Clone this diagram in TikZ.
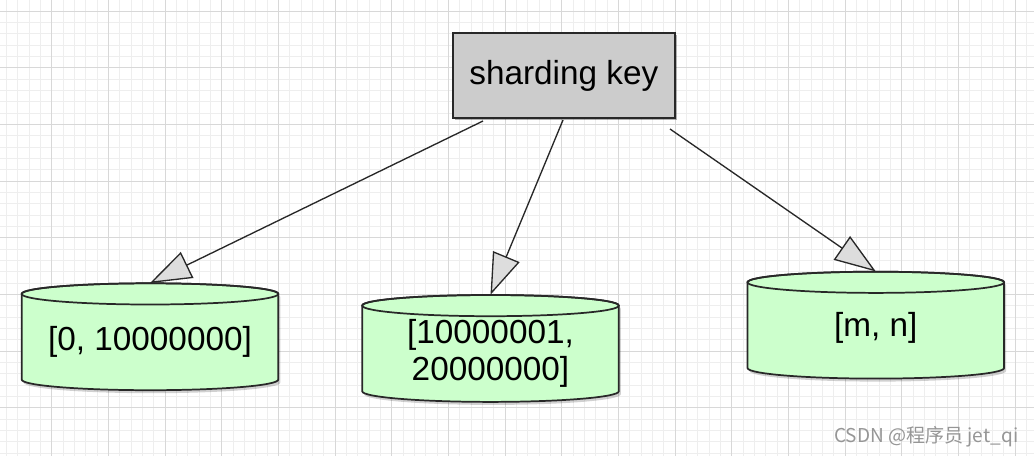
\documentclass[tikz,border=0pt]{standalone}
\usepackage{fontspec}
\setmainfont{Liberation Sans}
\newfontfamily\cjkfont{Noto Sans CJK SC}
\usetikzlibrary{arrows.meta,calc,shadows}
\definecolor{gridminor}{RGB}{238,238,238}
\definecolor{gridmajor}{RGB}{216,216,216}
\definecolor{boxfill}{RGB}{204,204,204}
\definecolor{cylfill}{RGB}{204,255,204}
\definecolor{edgec}{RGB}{40,40,40}
\definecolor{tipfill}{RGB}{221,221,221}
\definecolor{wmc}{RGB}{150,150,150}
\tikzset{
  minorline/.style={draw=gridminor, line width=0.75pt},
  majorline/.style={draw=gridmajor, line width=0.75pt},
  keybox/.style={draw=edgec, fill=boxfill, line width=1.3pt, minimum width=166.7pt, minimum height=63.75pt, inner sep=0pt,
    drop shadow={shadow xshift=1.5pt, shadow yshift=-1.5pt, opacity=0.3, fill=black}},
  cylbody/.style={draw=edgec, fill=cylfill, line width=1.3pt},
  cylshadow/.style={fill=black, opacity=0.18},
  cylnode/.style={minimum width=192.5pt, minimum height=80pt, inner sep=0pt},
  lbl/.style={font=\fontsize{25pt}{27.75pt}\selectfont, align=center, inner sep=0pt},
  conn/.style={draw=edgec, line width=1pt, -{Triangle[length=31pt, width=21.5pt, fill=tipfill]}},
  wmark/.style={text=wmc, font=\cjkfont\fontsize{14.3pt}{16pt}\selectfont, inner sep=0pt}
}
% #1 name, #2 centre x, #3 top y (image pixels)
\newcommand\dbcylinder[3]{%
  \begin{scope}[shift={(2,3)}]
    \fill[cylshadow] ({#2-128.3},{#3+10.6}) -- ({#2-128.3},{#3+96.3})
      arc[start angle=180, end angle=0, x radius=128.3, y radius=10.6]
      -- ({#2+128.3},{#3+10.6})
      arc[start angle=0, end angle=-180, x radius=128.3, y radius=10.6] -- cycle;
  \end{scope}
  \path[cylbody] ({#2-128.3},{#3+10.6}) -- ({#2-128.3},{#3+96.3})
    arc[start angle=180, end angle=0, x radius=128.3, y radius=10.6]
    -- ({#2+128.3},{#3+10.6})
    arc[start angle=0, end angle=-180, x radius=128.3, y radius=10.6] -- cycle;
  \draw[draw=edgec, line width=1.3pt] (#2,{#3+10.6}) ellipse[x radius=128.3, y radius=10.6];
  \node[cylnode] (#1) at (#2,{#3+53.35}) {};
}
\begin{document}
\begin{tikzpicture}[x=0.75pt, y=-0.75pt]
\useasboundingbox (0,0) rectangle (1034,456);
\fill[white] (0,0) rectangle (1034,456);
\begin{scope}
  \clip (0,0) rectangle (1034,456);
  \foreach \i in {0,...,92} \draw[minorline] ({-4.97+\i*11.333},0) -- ({-4.97+\i*11.333},456);
  \foreach \j in {0,...,41} \draw[minorline] (0,{-0.03+\j*11.333}) -- (1034,{-0.03+\j*11.333});
  \foreach \k in {0,...,18} \draw[majorline] ({-4.97+\k*56.667},0) -- ({-4.97+\k*56.667},456);
  \foreach \k in {0,...,8} \draw[majorline] (0,{-45.37+\k*56.667}) -- (1034,{-45.37+\k*56.667});
\end{scope}

\node[keybox, lbl] (box) at (563.85,75.8) {sharding key};

\dbcylinder{c1}{150}{283.3}
\dbcylinder{c2}{490.5}{295}
\dbcylinder{c3}{875.8}{271.7}

\node[lbl] (t1) at (150,341.7) {[0, 10000000]};
\node[lbl] (t2) at (490.5,353.3) {[10000001,\\20000000]};
\node[lbl] (t3) at (875.8,328.3) {[m, n]};

\coordinate (s1) at (483,121);
\coordinate (s2) at (563,120);
\coordinate (s3) at (670,129);
\draw[conn] (s1) -- (c1.north);
\draw[conn] (s2) -- (c2.north);
\draw[conn] (s3) -- (c3.north);

\node[wmark, anchor=east] (wm) at (1018.5,436.5) {CSDN @程序员 jet\_qi};
\end{tikzpicture}
\end{document}
